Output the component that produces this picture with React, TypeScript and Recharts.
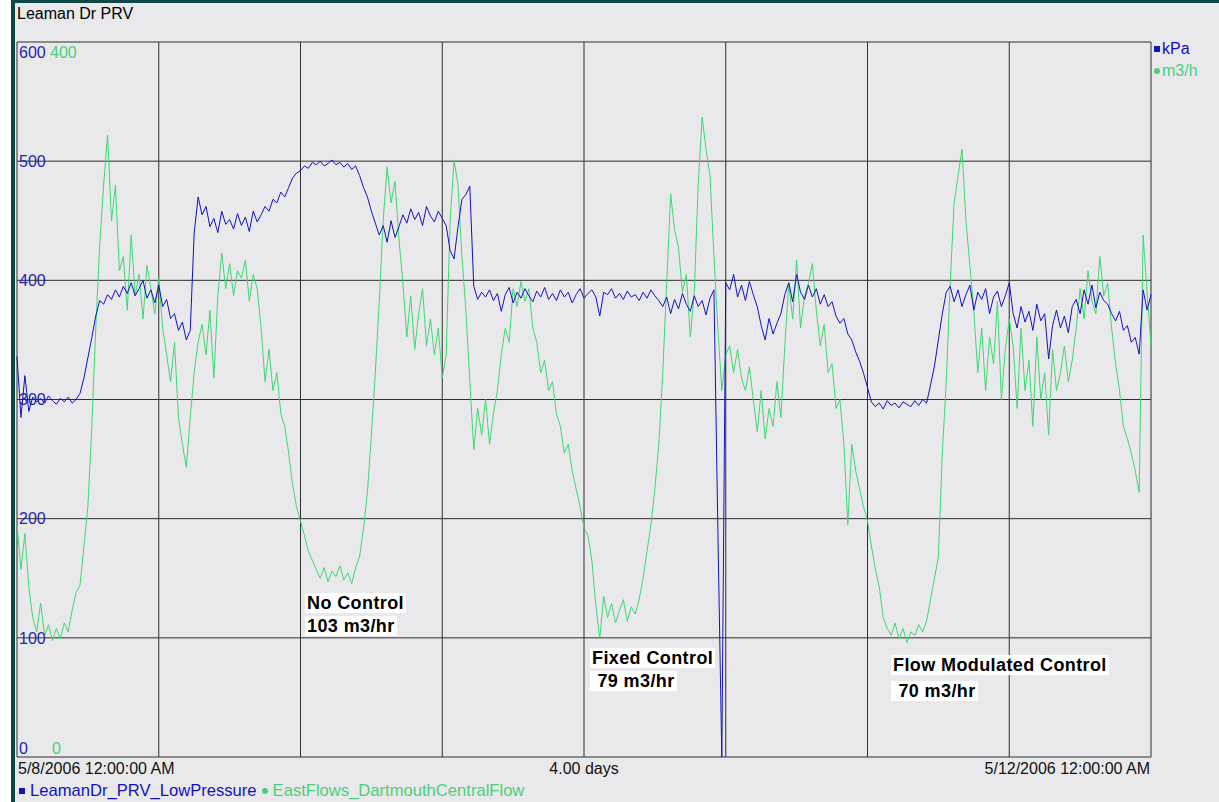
import React from "react";
import { LineChart, Line, XAxis, YAxis, CartesianGrid } from "recharts";

// 20-minute samples, 5/8/2006 00:00 to 5/12/2006 00:00 (289 samples)
const SAMPLE_HOURS = 1 / 3;

// LeamanDr_PRV_LowPressure (kPa), one row = 6 hours
const pressureKpa = [
  336, 285, 320, 290, 302, 298, 301, 297, 303, 299, 296, 301, 298, 302, 297, 300, 305, 318,
  335, 352, 370, 383, 380, 388, 384, 392, 386, 395, 389, 398, 387, 393, 400, 385, 392, 381,
  396, 378, 384, 368, 372, 358, 365, 350, 358, 440, 470, 455, 462, 445, 452, 440, 458, 447,
  451, 443, 456, 446, 453, 441, 458, 449, 455, 462, 458, 468, 465, 474, 470, 478, 486, 490,
  492, 496, 494, 499, 497, 500, 496, 498, 501, 497, 499, 495, 498, 493, 496, 488, 478, 470,
  458, 448, 438, 446, 432, 450, 436, 445, 455, 448, 460, 451, 457, 446, 462, 454, 449, 458,
  452, 446, 425, 418, 445, 468, 472, 479, 395, 384, 390, 386, 392, 383, 389, 374, 388, 394,
  381, 390, 385, 393, 387, 382, 391, 386, 394, 384, 389, 383, 392, 386, 390, 381, 388, 393,
  385, 389, 392, 386, 370, 390, 388, 393, 385, 389, 384, 391, 386, 388, 383, 390, 385, 392,
  387, 383, 378, 386, 372, 384, 376, 389, 380, 374, 387, 378, 383, 371, 385, 392, 190, 0,
  398, 392, 405, 386, 396, 383, 399, 388, 378, 362, 350, 368, 355, 364, 372, 388, 398, 382,
  405, 390, 384, 396, 386, 393, 380, 388, 378, 382, 370, 364, 368, 355, 350, 340, 332, 322,
  310, 298, 294, 297, 292, 299, 295, 297, 293, 298, 296, 294, 299, 295, 300, 297, 312, 328,
  350, 372, 390, 395, 382, 392, 378, 388, 396, 375, 390, 384, 393, 372, 386, 391, 378, 387,
  398, 372, 360, 378, 365, 374, 358, 380, 366, 372, 334, 362, 375, 360, 370, 356, 378, 384,
  372, 392, 380, 396, 377, 390, 383, 380, 372, 366, 374, 358, 362, 348, 352, 338, 392, 375,
  388,
];

// EastFlows_DartmouthCentralFlow (m3/h), one row = 6 hours
const flowM3h = [
  130, 105, 125, 95, 78, 70, 86, 68, 74, 65, 72, 66, 75, 70, 82, 92, 96, 118,
  140, 185, 240, 286, 320, 348, 300, 320, 272, 280, 250, 292, 258, 270, 245, 275, 262, 248,
  268, 240, 225, 210, 232, 190, 175, 162, 190, 215, 232, 242, 225, 250, 212, 258, 282, 262,
  276, 258, 272, 268, 278, 255, 270, 262, 240, 210, 228, 205, 215, 192, 185, 170, 152, 140,
  132, 124, 115, 110, 105, 100, 106, 98, 104, 101, 107, 99, 103, 97, 106, 112, 128, 148,
  180, 215, 255, 300, 330, 310, 322, 290, 265, 235, 258, 228, 248, 262, 230, 245, 225, 240,
  212, 225, 300, 334, 320, 280, 250, 210, 172, 195, 180, 200, 175, 192, 205, 225, 240, 232,
  262, 252, 266, 255, 262, 240, 232, 215, 222, 205, 210, 192, 185, 170, 175, 160, 150, 140,
  128, 124, 110, 85, 66, 90, 78, 86, 75, 82, 88, 76, 84, 80, 88, 100, 115, 130,
  150, 175, 215, 265, 315, 295, 285, 260, 270, 235, 260, 320, 358, 340, 325, 280, 240, 205,
  225, 230, 215, 228, 212, 205, 218, 200, 182, 205, 178, 195, 185, 210, 190, 230, 265, 245,
  278, 240, 258, 265, 276, 250, 230, 242, 215, 220, 195, 200, 175, 130, 175, 160, 150, 140,
  132, 118, 105, 95, 78, 72, 68, 75, 66, 72, 64, 70, 68, 74, 70, 76, 88, 100,
  112, 170, 210, 265, 310, 325, 340, 300, 275, 250, 215, 240, 205, 235, 220, 255, 200, 228,
  245, 230, 195, 240, 205, 222, 185, 235, 200, 215, 180, 228, 205, 215, 230, 210, 222, 240,
  262, 245, 272, 255, 248, 280, 258, 265, 240, 220, 205, 185, 178, 170, 160, 148, 292, 260,
  230,
];

const hourTicks = [0, 12, 24, 36, 48, 60, 72, 84, 96];
const kpaTicks = [0, 100, 200, 300, 400, 500, 600];
const flowTicks = [0, 400];
const timeLabels: Record<number, string> = {
  0: "5/8/2006 12:00:00 AM",
  48: "4.00 days",
  96: "5/12/2006 12:00:00 AM",
};

const data = pressureKpa.map((kpa, i) => ({
  t: i * SAMPLE_HOURS,
  kpa,
  flow: flowM3h[i],
}));

const BLUE = "#1212c2";
const GREEN = "#3fd873";
const GREEN_TEXT = "#4ccf78";
const FONT = "'Liberation Sans', Arial, sans-serif";
const W = 1219;
const H = 802;
const PLOT = { left: 17, top: 42, right: 1151, bottom: 757 };

const KpaTick = (props: any) => {
  const v = props.payload.value;
  const dy = v === 600 ? 10 : v === 0 ? -9 : 0;
  return (
    <text x={PLOT.left + 2} y={props.y + dy} dy="0.36em" fill="#2424b0" fontSize={16} fontFamily={FONT} textAnchor="start">
      {v}
    </text>
  );
};

const FlowTick = (props: any) => {
  const v = props.payload.value;
  const dy = v === 400 ? 10 : -9;
  return (
    <text x={PLOT.left + (v === 400 ? 33 : 35)} y={props.y + dy} dy="0.36em" fill={GREEN_TEXT} fontSize={16} fontFamily={FONT} textAnchor="start">
      {v}
    </text>
  );
};

const TimeTick = (props: any) => {
  const v = props.payload.value;
  const label = timeLabels[v];
  if (!label) return null;
  const anchor = v === 0 ? "start" : v === 96 ? "end" : "middle";
  const x = v === 0 ? PLOT.left + 1 : v === 96 ? PLOT.right - 1 : props.x;
  return (
    <text x={x} y={PLOT.bottom + 17} fill="#111" fontSize={16} fontFamily={FONT} textAnchor={anchor}>
      {label}
    </text>
  );
};

const noteStyle: React.CSSProperties = {
  position: "absolute",
  background: "#ffffff",
  fontFamily: FONT,
  fontWeight: "bold",
  fontSize: 18,
  letterSpacing: 0.4,
  lineHeight: "20px",
  color: "#000",
  padding: "0 2px",
  whiteSpace: "pre",
};

export default function App() {
  return (
    <div style={{ position: "fixed", left: 0, top: 0, width: W, height: H, background: "#ffffff", overflow: "hidden" }}>
      <div
        style={{
          position: "absolute",
          left: 11,
          top: 0,
          width: W - 11,
          height: H,
          boxSizing: "border-box",
          background: "#e9e9eb",
          borderLeft: "4px solid #0c4848",
          borderTop: "3px solid #0c4848",
        }}
      />
      <div style={{ position: "absolute", left: 17, top: 5, fontFamily: FONT, fontSize: 16, color: "#000" }}>
        Leaman Dr PRV
      </div>
      <div style={{ position: "absolute", left: 0, top: 0 }}>
        <LineChart width={W} height={H} data={data} margin={{ top: PLOT.top, left: PLOT.left, right: W - PLOT.right, bottom: H - PLOT.bottom - 30 }}>
          <CartesianGrid yAxisId="kpa" stroke="#2e2e2e" strokeWidth={1} fill="#e9e9eb" />
          <XAxis
            dataKey="t"
            type="number"
            domain={[0, 96]}
            ticks={hourTicks}
            interval={0}
            height={30}
            axisLine={false}
            tickLine={false}
            tick={<TimeTick />}
          />
          <YAxis
            yAxisId="kpa"
            type="number"
            domain={[0, 600]}
            ticks={kpaTicks}
            interval={0}
            mirror
            width={50}
            axisLine={false}
            tickLine={false}
            tick={<KpaTick />}
          />
          <YAxis
            yAxisId="flow"
            type="number"
            domain={[0, 400]}
            ticks={flowTicks}
            interval={0}
            mirror
            width={50}
            axisLine={false}
            tickLine={false}
            tick={<FlowTick />}
          />
          <Line yAxisId="flow" type="linear" dataKey="flow" stroke={GREEN} strokeWidth={1} dot={false} isAnimationActive={false} />
          <Line yAxisId="kpa" type="linear" dataKey="kpa" stroke={BLUE} strokeWidth={1} dot={false} isAnimationActive={false} />
        </LineChart>
      </div>

      <div style={{ position: "absolute", left: 1154, top: 40, fontFamily: FONT, fontSize: 16, color: BLUE, whiteSpace: "pre" }}>
        <span style={{ display: "inline-block", width: 6, height: 6, background: BLUE, marginRight: 2, verticalAlign: 2 }} />
        kPa
      </div>
      <div style={{ position: "absolute", left: 1154, top: 62, fontFamily: FONT, fontSize: 16, color: GREEN_TEXT, whiteSpace: "pre" }}>
        <span style={{ display: "inline-block", width: 6, height: 6, borderRadius: 3, background: GREEN_TEXT, marginRight: 2, verticalAlign: 2 }} />
        m3/h
      </div>

      <div style={{ position: "absolute", left: 19, top: 781, fontFamily: FONT, fontSize: 16.6, whiteSpace: "pre" }}>
        <span style={{ color: BLUE }}>
          <span style={{ display: "inline-block", width: 6, height: 6, background: BLUE, marginRight: 5, verticalAlign: 2 }} />
          LeamanDr_PRV_LowPressure
        </span>
        <span style={{ color: GREEN_TEXT, marginLeft: 5 }}>
          <span style={{ display: "inline-block", width: 6, height: 6, borderRadius: 3, background: GREEN_TEXT, marginRight: 5, verticalAlign: 2 }} />
          EastFlows_DartmouthCentralFlow
        </span>
      </div>

      <div style={{ ...noteStyle, left: 305, top: 593 }}>No Control</div>
      <div style={{ ...noteStyle, left: 305, top: 616 }}>103 m3/hr</div>
      <div style={{ ...noteStyle, left: 590, top: 648 }}>Fixed Control</div>
      <div style={{ ...noteStyle, left: 590, top: 671 }}> 79 m3/hr</div>
      <div style={{ ...noteStyle, left: 891, top: 655 }}>Flow Modulated Control</div>
      <div style={{ ...noteStyle, left: 891, top: 681 }}> 70 m3/hr</div>
    </div>
  );
}
